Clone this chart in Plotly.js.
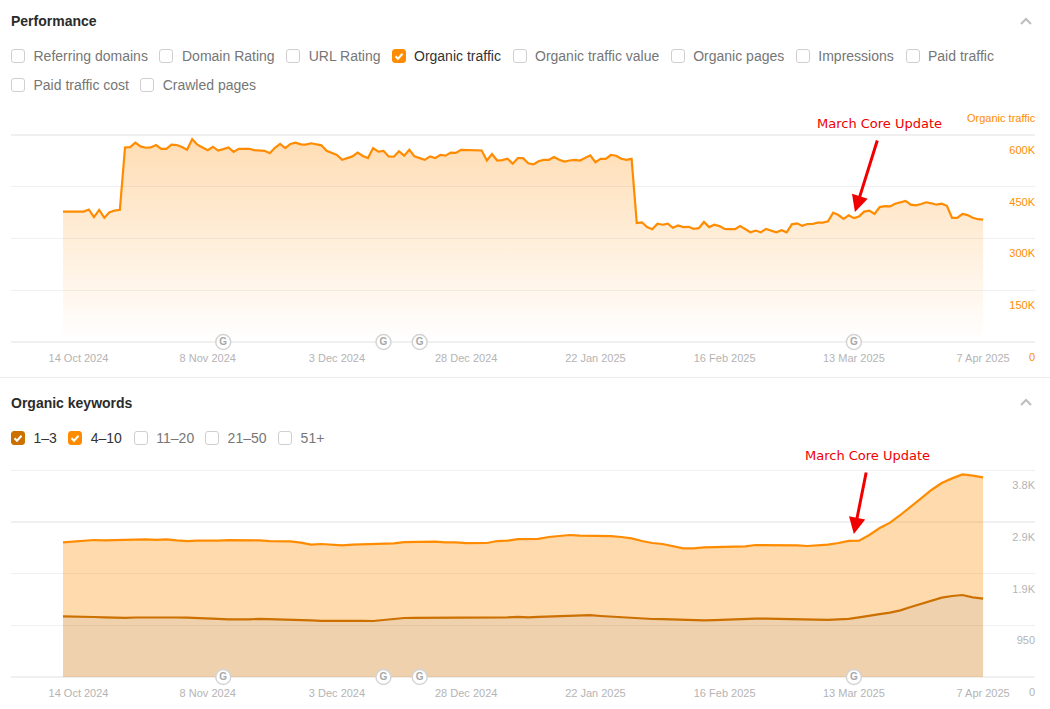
<!DOCTYPE html>
<html>
<head>
<meta charset="utf-8">
<script src="https://cdn.plot.ly/plotly-3.0.1.min.js"></script>
<style>
html,body{margin:0;padding:0;background:#fff;width:1050px;height:709px;overflow:hidden}
body{font-family:"Liberation Sans",Arial,sans-serif;position:relative}
#chart{position:absolute;left:0;top:0;width:1050px;height:709px}
.t{position:absolute;white-space:nowrap}
.title{font-size:14px;font-weight:700;color:#2b2b2b;line-height:18px;left:11px}
.lab{font-size:14px;line-height:18px;color:#767676}
.on{color:#333}
.box{position:absolute;width:12px;height:12px;border:1px solid #cfcfcf;border-radius:3px;background:#fff}
.box svg{position:absolute;left:-1px;top:-1px}
.rule{position:absolute;left:0;width:1050px;height:1px;background:#ececec;top:377px}
.chev{position:absolute;left:1020px}
</style>
</head>
<body>
<div id="chart"></div>
<script>
const DAY_START = '2024-10-11';
const TRAFFIC = [378,379,378,378,378,384,362,383,360,376,381,383,564,565,578,567,563,564,571,560,560,572,571,565,557,588,572,564,556,566,555,559,564,551,560,560,560,556,554,554,547,563,574,562,574,578,573,572,576,573,570,554,548,542,528,533,538,549,539,533,562,552,554,538,537,553,540,557,538,533,528,538,533,542,540,549,548,557,557,555,555,555,526,545,526,527,531,517,533,533,518,515,524,528,528,536,528,523,526,528,526,534,541,521,531,531,542,540,531,528,531,345,347,333,327,343,340,343,331,338,333,334,328,330,348,333,340,336,328,327,327,336,327,318,323,318,328,324,318,324,318,341,344,337,342,342,346,346,350,375,368,357,367,359,364,378,381,371,391,394,393,401,406,409,398,396,400,405,402,398,401,395,360,360,371,368,360,356,355];
const KW_4_10_TOP = [2478,2496,2505,2521,2515,2524,2524,2527,2533,2524,2533,2515,2502,2509,2505,2509,2518,2521,2524,2515,2502,2505,2496,2472,2435,2447,2435,2423,2435,2441,2444,2441,2460,2481,2484,2490,2490,2478,2478,2463,2463,2466,2502,2509,2536,2533,2542,2576,2601,2613,2601,2601,2601,2594,2576,2552,2502,2466,2447,2411,2368,2368,2386,2389,2392,2401,2404,2429,2429,2429,2429,2423,2411,2417,2435,2466,2505,2509,2613,2742,2840,2981,3128,3288,3441,3570,3655,3729,3705,3674];
const KW_1_3 = [1117,1117,1117,1104,1098,1092,1089,1095,1098,1101,1104,1095,1092,1089,1080,1070,1061,1055,1061,1070,1067,1055,1052,1049,1043,1034,1037,1040,1037,1034,1031,1049,1074,1086,1089,1089,1092,1092,1098,1092,1086,1086,1092,1098,1107,1098,1107,1113,1129,1132,1135,1138,1123,1110,1098,1086,1074,1067,1064,1058,1049,1043,1043,1046,1055,1061,1070,1074,1074,1070,1067,1058,1049,1049,1052,1061,1070,1098,1132,1156,1184,1227,1288,1349,1405,1460,1491,1509,1466,1442];
const TICK_DATES = ['2024-10-14','2024-11-08','2024-12-03','2024-12-28','2025-01-22','2025-02-16','2025-03-13','2025-04-07'];
const TICK_LABELS = ['14 Oct 2024','8 Nov 2024','3 Dec 2024','28 Dec 2024','22 Jan 2025','16 Feb 2025','13 Mar 2025','7 Apr 2025'];
const GOOGLE_UPDATES = ['2024-11-11','2024-12-12','2024-12-19','2025-03-13'];
const TRAFFIC_TICKS = [0,150000,300000,450000,600000];
const TRAFFIC_TICK_LABELS = ['0','150K','300K','450K','600K'];
const KW_TICKS = [0,950,1900,2850,3800];
const KW_TICK_LABELS = ['0','950','1.9K','2.9K','3.8K'];
const PERF_OPTIONS = [
  ['Referring domains',11,33.5,56],['Domain Rating',159.4,182,56],['URL Rating',286.2,308.7,56],['Organic traffic',392.4,414,56,'#ff8c00'],
  ['Organic traffic value',513,535,56],['Organic pages',671.3,693.2,56],['Impressions',796,818.3,56],['Paid traffic',906.3,928,56],
  ['Paid traffic cost',11,33.5,85],['Crawled pages',140.3,162.7,85]];
const KW_OPTIONS = [['1–3',11,33.5,438,'#cc7000'],['4–10',68.3,90.7,438,'#ff8c00'],['11–20',134.2,156.3,438],['21–50',205.2,227.6,438],['51+',278.2,300.6,438]];

function dayList(n, step){
  const out=[]; const s=Date.parse(DAY_START+'T00:00:00Z');
  for(let i=0;i<n;i++) out.push(new Date(s+i*step*86400000).toISOString().slice(0,10));
  return out;
}
const ORANGE='#ff8c00', DARK='#cc7000', GREY='#b4b4b4';
const trafficDates=dayList(TRAFFIC.length,1), kwDates=dayList(KW_1_3.length,2);
const googleMarks=(xa,ya)=>({x:GOOGLE_UPDATES,y:GOOGLE_UPDATES.map(()=>0),xaxis:xa,yaxis:ya,type:'scatter',mode:'markers+text',
  text:GOOGLE_UPDATES.map(()=>'G'),textposition:'middle center',textfont:{family:'Liberation Sans',size:10,color:'#a8a8a8',weight:700},
  marker:{size:15,color:'#fff',line:{color:'#d4d4d4',width:1.5}},cliponaxis:false,hoverinfo:'skip',showlegend:false});
const data=[
  {x:trafficDates,y:TRAFFIC.map(v=>v*1000),xaxis:'x',yaxis:'y',type:'scatter',mode:'lines',name:'Organic traffic',
   line:{color:ORANGE,width:2.2},fill:'tozeroy',
   fillgradient:{type:'vertical',start:600000,stop:0,colorscale:[[0,'rgba(255,140,0,0.30)'],[1,'rgba(255,140,0,0)']]}},
  googleMarks('x','y'),
  {x:kwDates,y:KW_1_3,xaxis:'x2',yaxis:'y2',type:'scatter',mode:'lines',name:'1–3',line:{color:DARK,width:2.2},fill:'tozeroy',fillcolor:'rgba(204,112,0,0.32)'},
  {x:kwDates,y:KW_4_10_TOP,xaxis:'x2',yaxis:'y2',type:'scatter',mode:'lines',name:'4–10',line:{color:ORANGE,width:2.2},fill:'tonexty',fillcolor:'rgba(255,140,0,0.32)'},
  googleMarks('x2','y2')
];
const xRange=['2024-09-30 22:34','2025-04-17 01:00'];
const xBase={type:'date',range:xRange,fixedrange:true,showgrid:false,zeroline:false,showline:false,ticks:'',tickmode:'array',tickvals:TICK_DATES,ticktext:TICK_LABELS,
  tickfont:{family:'Liberation Sans',size:11,color:GREY},ticklabelstandoff:8};
const yBase={fixedrange:true,side:'right',tickmode:'array',ticks:'',ticklabelposition:'inside',ticklabeloverflow:'allow',ticklabelshift:15,ticklabelstandoff:-3,
  gridcolor:'#f0f0f0',gridwidth:1.5,zeroline:true,zerolinecolor:'#f0f0f0',zerolinewidth:2,showline:false};
const layout={width:1050,height:709,margin:{l:11,r:15,t:0,b:0,pad:0},paper_bgcolor:'rgba(0,0,0,0)',plot_bgcolor:'rgba(0,0,0,0)',showlegend:false,
  font:{family:'Liberation Sans'},
  xaxis:Object.assign({},xBase,{anchor:'y',domain:[0,1]}),
  xaxis2:Object.assign({},xBase,{anchor:'y2',domain:[0,1]}),
  yaxis:Object.assign({},yBase,{anchor:'x',domain:[0.5176,0.81106],range:[0,603000],tickvals:TRAFFIC_TICKS,ticktext:TRAFFIC_TICK_LABELS,tickfont:{family:'Liberation Sans',size:11,color:ORANGE}}),
  yaxis2:Object.assign({},yBase,{anchor:'x2',domain:[0.04513,0.33793],range:[0,3820],tickvals:KW_TICKS,ticktext:KW_TICK_LABELS,tickfont:{family:'Liberation Sans',size:11,color:GREY}}),
  annotations:[
    {text:'Organic traffic',xref:'paper',yref:'paper',x:1,xshift:3,y:0.8336,xanchor:'right',yanchor:'middle',showarrow:false,font:{family:'Liberation Sans',size:11,color:ORANGE}},
    {text:'March Core Update',xref:'paper',yref:'paper',x:0.848,y:0.8265,xanchor:'center',yanchor:'middle',showarrow:false,font:{family:'DejaVu Sans',size:13,color:'#f00000'}},
    {text:'March Core Update',xref:'paper',yref:'paper',x:0.836,y:0.3582,xanchor:'center',yanchor:'middle',showarrow:false,font:{family:'DejaVu Sans',size:13,color:'#f00000'}},
    {text:' ',xref:'x',yref:'y',x:'2025-03-13 05:00',y:377000,ax:25,ay:-80,showarrow:true,arrowhead:2,arrowsize:1.1,arrowwidth:3,arrowcolor:'#f00000',standoff:0},
    {text:' ',xref:'x2',yref:'y2',x:'2025-03-13',y:2631,ax:14,ay:-70,showarrow:true,arrowhead:2,arrowsize:1.1,arrowwidth:3,arrowcolor:'#f00000',standoff:0}
  ]};
Plotly.newPlot('chart',data,layout,{displayModeBar:false,staticPlot:true});

function addText(cls,txt,x,yc){const d=document.createElement('div');d.className='t '+cls;d.textContent=txt;d.style.left=x+'px';d.style.top=(yc-9)+'px';document.body.appendChild(d);}
function addOption(o){
  const b=document.createElement('div');b.className='box';b.style.left=o[1]+'px';b.style.top=(o[3]-7)+'px';
  if(o[4]){b.style.background=o[4];b.style.borderColor=o[4];b.innerHTML='<svg width="14" height="14" viewBox="0 0 14 14"><polyline points="3.5,7.2 6,9.7 10.5,4.8" fill="none" stroke="#fff" stroke-width="2"/></svg>';}
  document.body.appendChild(b);
  addText('lab'+(o[4]?' on':''),o[0],o[2],o[3]);
}
PERF_OPTIONS.forEach(addOption);KW_OPTIONS.forEach(addOption);
addText('title','Performance',11,21);addText('title','Organic keywords',11,403);
const r=document.createElement('div');r.className='rule';document.body.appendChild(r);
[17,398].forEach(y=>{const s=document.createElementNS('http://www.w3.org/2000/svg','svg');s.setAttribute('class','chev');s.setAttribute('width','12');s.setAttribute('height','8');s.style.top=y+'px';
  s.innerHTML='<polyline points="1,7 6,2 11,7" fill="none" stroke="#bdbdbd" stroke-width="2"/>';document.body.appendChild(s);});
</script>
</body>
</html>
